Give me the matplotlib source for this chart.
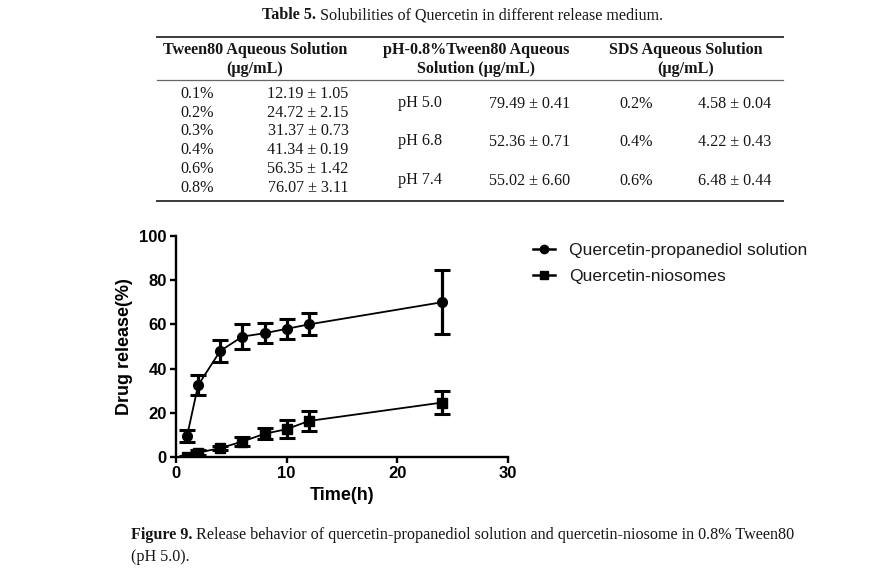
import matplotlib
matplotlib.use("Agg")
import matplotlib.pyplot as plt
from matplotlib.lines import Line2D

# table 5 contents
tween_conc = ["0.1%", "0.2%", "0.3%", "0.4%", "0.6%", "0.8%"]
tween_sol = ["12.19 ± 1.05", "24.72 ± 2.15", "31.37 ± 0.73",
             "41.34 ± 0.19", "56.35 ± 1.42", "76.07 ± 3.11"]
ph_values = ["pH 5.0", "pH 6.8", "pH 7.4"]
ph_sol = ["79.49 ± 0.41", "52.36 ± 0.71", "55.02 ± 6.60"]
sds_conc = ["0.2%", "0.4%", "0.6%"]
sds_sol = ["4.58 ± 0.04", "4.22 ± 0.43", "6.48 ± 0.44"]

# release curves
time_h = [1, 2, 4, 6, 8, 10, 12, 24]
solution_mean = [9.5, 32.5, 48, 54.5, 56, 58, 60, 70]
solution_err = [2.5, 4.5, 5, 5.5, 4.5, 4.5, 5, 14.5]
niosome_mean = [0, 2, 4, 7, 10.5, 12.6, 16.3, 24.6]
niosome_err = [0.5, 1, 1, 2, 2.5, 4, 4.7, 5.2]

W, H = 882, 577
fig = plt.figure(figsize=(W / 100, H / 100), dpi=100)
renderer = fig.canvas.get_renderer()

serif = "Liberation Serif"
sans = "Liberation Sans"
FS = 11.6


def fx(x):
    return x / W


def fy(y):
    return 1 - y / H


def txt(x, y, s, ha="center", weight="normal", size=FS):
    return fig.text(fx(x), fy(y), s, ha=ha, va="center", family=serif,
                    weight=weight, size=size, color="#161616")


def bold_lead(x, y, lead, rest):
    # bold label followed by regular text on the same line
    t = txt(x, y, lead, ha="left", weight="bold")
    right = t.get_window_extent(renderer).x1
    txt(right + 4, y, rest, ha="left")


def rule(y, x0=157, x1=783, lw=1.4, color="#3a3a3a"):
    fig.add_artist(Line2D([fx(x0), fx(x1)], [fy(y), fy(y)],
                          transform=fig.transFigure, lw=lw, color=color))


# ---- table ----
bold_lead(262, 15, "Table 5.", "Solubilities of Quercetin in different release medium.")

rule(37)
rule(80, lw=0.9, color="#666666")
rule(201)

txt(255, 50, "Tween80 Aqueous Solution", weight="bold")
txt(255, 69, "(μg/mL)", weight="bold")
txt(476, 50, "pH-0.8%Tween80 Aqueous", weight="bold")
txt(476, 69, "Solution (μg/mL)", weight="bold")
txt(686, 50, "SDS Aqueous Solution", weight="bold")
txt(686, 69, "(μg/mL)", weight="bold")

row_y = [94, 113, 131, 150, 169, 188]
for i in range(len(tween_conc)):
    txt(197, row_y[i], tween_conc[i])
    txt(308, row_y[i], tween_sol[i])

pair_y = [103, 141, 180]
for i in range(len(ph_values)):
    txt(398, pair_y[i], ph_values[i], ha="left")
    txt(530, pair_y[i] + 1, ph_sol[i])
    txt(636, pair_y[i] + 1, sds_conc[i])
    txt(735, pair_y[i] + 1, sds_sol[i])

# ---- figure 9 ----
ax = fig.add_axes([fx(176), fy(457), (508 - 176) / W, (457 - 236) / H])

style = dict(color="black", ms=7, lw=1.3, elinewidth=2.3, capsize=6, capthick=2.2)
eb1 = ax.errorbar(time_h, solution_mean, yerr=solution_err, fmt="-o", **style)
eb2 = ax.errorbar(time_h, niosome_mean, yerr=niosome_err, fmt="-s", **style)

ax.set_xlim(0, 30)
ax.set_ylim(0, 100)
ax.set_xticks([0, 10, 20, 30])
ax.set_yticks([0, 20, 40, 60, 80, 100])
ax.spines["top"].set_visible(False)
ax.spines["right"].set_visible(False)
for sp in ["left", "bottom"]:
    ax.spines[sp].set_linewidth(1.7)
ax.tick_params(width=1.7, length=4.5, labelsize=12, pad=2)
for lab in ax.get_xticklabels() + ax.get_yticklabels():
    lab.set_fontweight("bold")
    lab.set_family(sans)
ax.set_xlabel("Time(h)", family=sans, weight="bold", size=13, labelpad=4)
ax.set_ylabel("Drug release(%)", family=sans, weight="bold", size=13, labelpad=5)

leg_handles = [Line2D([], [], color="black", lw=1.8, marker="o", ms=6),
               Line2D([], [], color="black", lw=1.8, marker="s", ms=6)]
ax.legend(leg_handles, ["Quercetin-propanediol solution", "Quercetin-niosomes"],
          loc="upper left", bbox_to_anchor=(fx(533), fy(243)),
          bbox_transform=fig.transFigure, frameon=False,
          prop={"family": sans, "size": 12.6}, handlelength=1.25,
          handletextpad=0.8, labelspacing=0.6, borderpad=0, borderaxespad=0,
          labelcolor="#1a1a1a")

# ---- caption ----
bold_lead(131, 535, "Figure 9.",
          "Release behavior of quercetin-propanediol solution and quercetin-niosome in 0.8% Tween80")
txt(131, 557, "(pH 5.0).", ha="left")

fig.savefig("out.png", dpi=100, facecolor="white")
